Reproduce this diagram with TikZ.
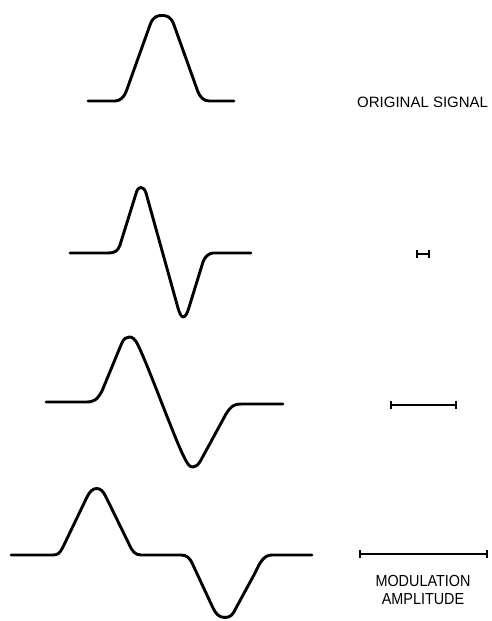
\documentclass[tikz,border=0pt]{standalone}
\usepackage{fontspec}
\setmainfont{Liberation Sans}
\newfontfamily\narrowfont[FakeStretch=0.9]{Liberation Sans}
\begin{document}
\begin{tikzpicture}[x=1pt,y=-1pt,
  signal/.style={line width=2.9pt,line join=round,line cap=round},
  scalebar/.style={line width=1.8pt},
  lbl/.style={inner sep=0pt,anchor=base west,font=\fontsize{15}{18}\selectfont},
  lblnarrow/.style={inner sep=0pt,anchor=north,align=center,font=\narrowfont\fontsize{16}{18}\selectfont}]
\useasboundingbox (0,0) rectangle (492,621);
% original signal
\draw[signal] (88,101) -- (115,101) .. controls (120,101) and (124,97) .. (126,92)
  -- (150,25) .. controls (153,16) and (158,15.5) .. (162,15.5)
  .. controls (166,15.5) and (171,16) .. (174,25)
  -- (198,92) .. controls (200,97) and (204,101) .. (209,101) -- (234,101);
% second
\draw[signal] (70,253) -- (108,253) .. controls (114,253) and (118,251.5) .. (120,245)
  -- (136.5,192) .. controls (137.6,188.5) and (139.5,187.5) .. (141,187.5)
  .. controls (143,187.5) and (145,189.4) .. (146,193)
  -- (178,308) .. controls (179.2,312.3) and (181,317) .. (183.3,317)
  .. controls (185.5,317) and (187.5,312.2) .. (188.5,309)
  -- (203,262) .. controls (204.5,257) and (209,253) .. (213,253) -- (251,253);
% third
\draw[signal] (46,402) -- (86,402) .. controls (94,402) and (97,400) .. (102,391)
  -- (121,345) .. controls (124,338) and (126,337) .. (129.3,337)
  .. controls (132.5,337) and (135,339) .. (138,345)
  .. controls (150,370) and (175,440) .. (185,459)
  .. controls (188,465) and (190,467) .. (193,467)
  .. controls (196,467) and (198,465) .. (201,460)
  -- (226,414) .. controls (231,406) and (234,404) .. (241,404) -- (283,404);
% fourth
\draw[signal] (11,555) -- (53,555) .. controls (58,555) and (60,553) .. (63,547)
  -- (87,497) .. controls (90,491) and (93,488.5) .. (96.7,488.5)
  .. controls (100.5,488.5) and (103,491) .. (106,497)
  -- (129,544) .. controls (132,551) and (135,555) .. (141,555) -- (181,555)
  .. controls (187,555) and (190,558) .. (193,565)
  -- (213,608) .. controls (216,614) and (219,617.5) .. (225,617.5)
  .. controls (231,617.5) and (233,614) .. (236,608)
  -- (255,573) .. controls (260,562) and (264,555) .. (272,555) -- (312,555);
% scale bars
\foreach \xa/\xb/\yy in {417/429/254, 391/456/405, 360/487/554}{
  \draw[scalebar] (\xa,\yy) -- (\xb,\yy);
  \draw[scalebar] (\xa,\yy-4) -- (\xa,\yy+4);
  \draw[scalebar] (\xb,\yy-4) -- (\xb,\yy+4);
}
% labels
\node[lbl] (orig) at (357,107) {ORIGINAL SIGNAL};
\node[lblnarrow] (modamp) at (423,575.5) {MODULATION\\AMPLITUDE};
\end{tikzpicture}
\end{document}
